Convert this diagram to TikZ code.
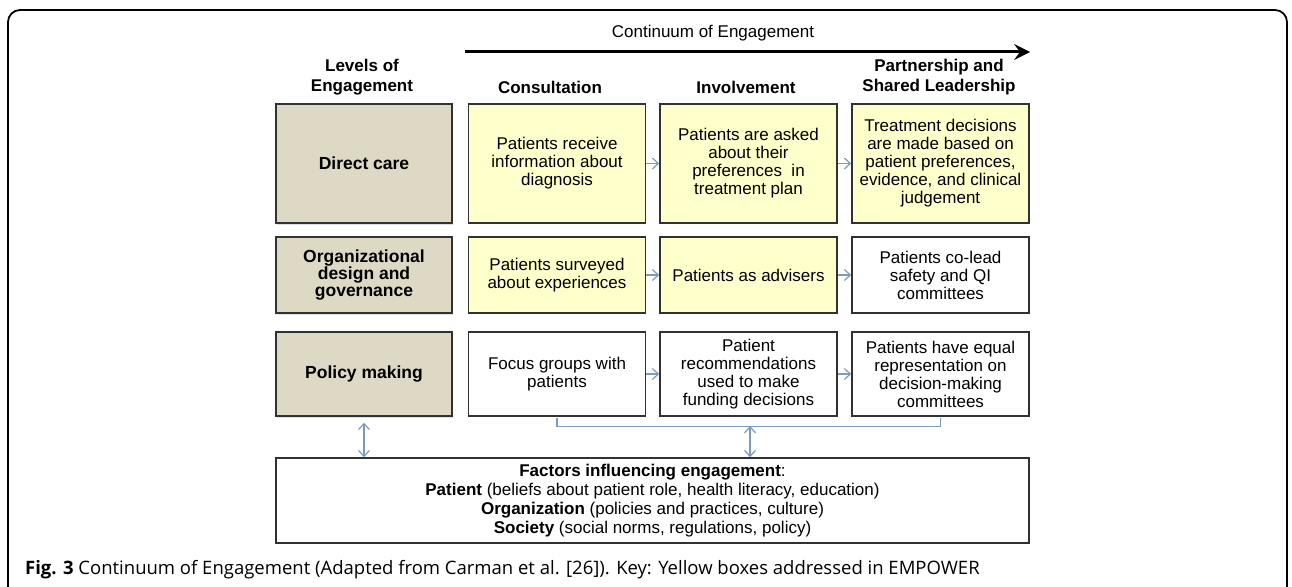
\documentclass[tikz,border=0pt]{standalone}
\usepackage{fontspec}
\setmainfont{Liberation Sans}
\newfontfamily\capfont{Open Sans}
\usetikzlibrary{arrows.meta,shadows}
\definecolor{tanfill}{RGB}{221,217,196}
\definecolor{paleyellow}{RGB}{255,255,204}
\definecolor{arrowblue}{RGB}{122,155,190}
\definecolor{boxline}{RGB}{50,50,50}
\begin{document}
\begin{tikzpicture}[x=1pt,y=-1pt,
  cellbase/.style={draw=boxline, line width=1.6pt, align=center, inner sep=2pt,
    font=\fontsize{17}{18}\selectfont},
  lvl/.style={cellbase, fill=tanfill, minimum width=176pt,
    font=\fontsize{17.5}{17}\selectfont\bfseries,
    drop shadow={opacity=0.25, shadow xshift=1pt, shadow yshift=-2pt}},
  yel/.style={cellbase, fill=paleyellow, minimum width=177pt},
  wht/.style={cellbase, fill=white, minimum width=177pt},
  rowa/.style={minimum height=119pt},
  rowb/.style={minimum height=76pt},
  rowc/.style={minimum height=84pt},
  hdr/.style={font=\fontsize{17}{20}\selectfont\bfseries, align=center},
  flow/.style={draw=arrowblue, line width=1.2pt, -{Straight Barb[length=6pt,width=11pt]}},
  dbl/.style={draw=arrowblue, line width=1.2pt,
    {Straight Barb[length=6pt,width=11pt]}-{Straight Barb[length=6pt,width=11pt]}},
]
\useasboundingbox (0,0) rectangle (1292,586);
\fill[white] (0,0) rectangle (1292,586);

% outer frame
\draw[line width=1.8pt, rounded corners=12pt] (8,590) -- (8,10) -- (1287,10) -- (1287,590);

% continuum arrow
\node[font=\fontsize{17}{20}\selectfont] (cont) at (713,33) {Continuum of Engagement};
\coordinate (as) at (465,52);
\coordinate (ae) at (1030,52);
\draw[line width=3pt, -{Stealth[length=16pt,width=16pt,inset=6pt]}] (as) -- (ae);

% headers
\node[hdr] (hlev) at (362,77) {Levels of\\Engagement};
\node[hdr] (hcon) at (550,87) {Consultation};
\node[hdr] (hinv) at (746,87) {Involvement};
\node[hdr] (hpar) at (939,77) {Partnership and\\Shared Leadership};

% levels
\node[lvl,rowa] (l1) at (364,163.5) {Direct care};
\node[lvl,rowb] (l2) at (364,275) {Organizational\\design and\\governance};
\node[lvl,rowc] (l3) at (364,374) {Policy making};

% row 1
\node[yel,rowa] (c1) at (557,163.5) {Patients receive\\information about\\diagnosis};
\node[yel,rowa] (i1) at (748.5,163.5) {Patients are asked\\about their\\preferences\ \ in\\treatment plan};
\node[yel,rowa] (p1) at (940.5,163.5) {Treatment decisions\\are made based on\\patient preferences,\\evidence, and clinical\\judgement};

% row 2
\node[yel,rowb] (c2) at (557,275) {Patients surveyed\\about experiences};
\node[yel,rowb] (i2) at (748.5,275) {Patients as advisers};
\node[wht,rowb] (p2) at (940.5,275) {Patients co-lead\\safety and QI\\committees};

% row 3
\node[wht,rowc] (c3) at (557,374) {Focus groups with\\patients};
\node[wht,rowc] (i3) at (748.5,374) {Patient\\recommendations\\used to make\\funding decisions};
\node[wht,rowc] (p3) at (940.5,374) {Patients have equal\\representation on\\decision-making\\committees};

% factors box
\node[cellbase, fill=white, minimum width=753pt, minimum height=85pt,
  font=\fontsize{17}{19}\selectfont] (fac) at (652.5,500.5)
  {\textbf{Factors influencing engagement}:\\
   \textbf{Patient} (beliefs about patient role, health literacy, education)\\
   \textbf{Organization} (policies and practices, culture)\\
   \textbf{Society} (social norms, regulations, policy)};

% flow arrows
\draw[flow] (c1) -- (i1);
\draw[flow] (i1) -- (p1);
\draw[flow] (c2) -- (i2);
\draw[flow] (i2) -- (p2);
\draw[flow] (c3) -- (i3);
\draw[flow] (i3) -- (p3);

% bracket and double arrows
\draw[draw=arrowblue, line width=1.2pt] ([yshift=-1pt]c3.south) -- ++(0,9) -| ([yshift=-1pt]p3.south);
\coordinate (bm) at (750,426);
\draw[dbl] (bm) -- (bm |- fac.north);
\draw[dbl] ([yshift=-6pt]l3.south) -- (l3.south |- fac.north);

% caption
\node[anchor=west, inner sep=0pt, font=\capfont\fontsize{18.5}{22}\selectfont] (cap) at (25,570)
  {\textbf{Fig. 3} Continuum of Engagement (Adapted from Carman et al. [26]). Key: Yellow boxes addressed in EMPOWER};
\end{tikzpicture}
\end{document}
